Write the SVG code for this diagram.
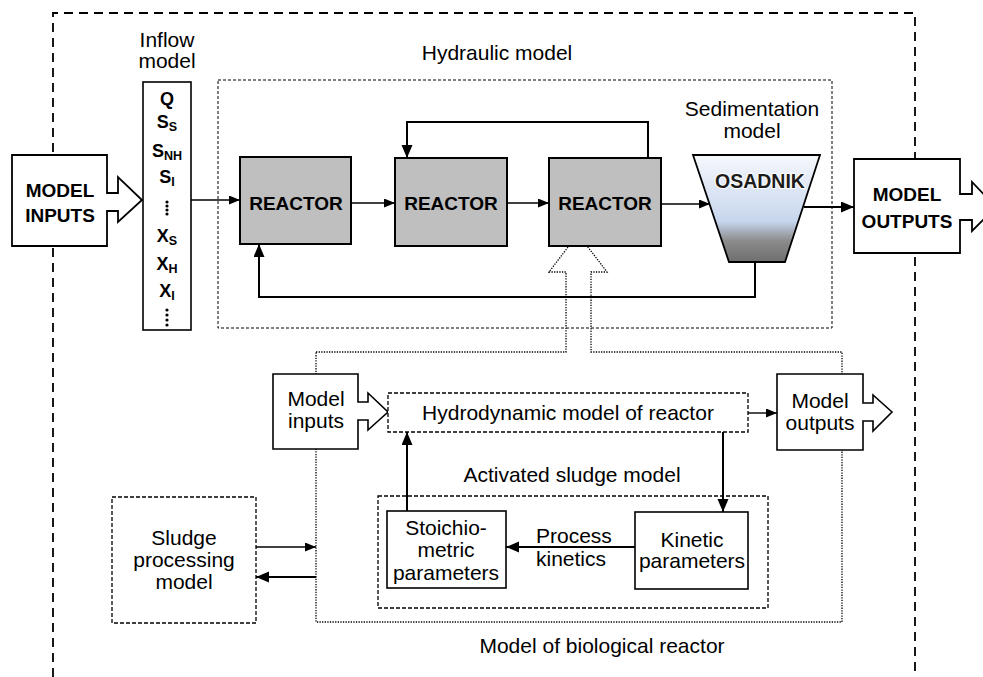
<svg xmlns="http://www.w3.org/2000/svg" width="983" height="677" viewBox="0 0 983 677">
  <style>
    text { font-family: "Liberation Sans", Arial, sans-serif; fill: #000; }
    .lbl { font-size: 21px; text-anchor: middle; }
    .lbl-start { font-size: 21px; }
    .big { font-size: 19px; font-weight: bold; text-anchor: middle; }
    .var { font-size: 18px; font-weight: bold; text-anchor: middle; }
    .sub { font-size: 12.5px; }
    text.settler-name { font-size: 19.5px; font-weight: bold; text-anchor: middle; fill: #1c1c1c; stroke: #fff; stroke-width: 2; stroke-linejoin: round; paint-order: stroke fill; }
    .reactor { fill: #bfbfbf; stroke: #000; stroke-width: 2; }
    .solid { fill: #fff; stroke: #000; stroke-width: 1.6; }
    .block { fill: #fff; stroke: #000; stroke-width: 1.8; }
    .dash-sys { fill: none; stroke: #000; stroke-width: 1.8; stroke-dasharray: 9 6; }
    .dash-fine { fill: none; stroke: #000; stroke-width: 1; stroke-dasharray: 3 2; }
    .dash-mid { fill: #fff; stroke: #000; stroke-width: 1.3; stroke-dasharray: 4 2; }
    .dotted { fill: none; stroke: #000; stroke-width: 1.3; stroke-dasharray: 1.3 1.3; }
    .conn { fill: none; stroke: #000; stroke-width: 1.4; }
    .conn-thick { fill: none; stroke: #000; stroke-width: 2; }
  </style>
  <defs>
    <marker id="arrow" markerUnits="userSpaceOnUse" markerWidth="12" markerHeight="10" refX="11" refY="4.5" orient="auto">
      <path d="M0,0 L11,4.5 L0,9 Z" fill="#000"/>
    </marker>
    <marker id="arrow-lg" markerUnits="userSpaceOnUse" markerWidth="14" markerHeight="12" refX="13" refY="5.5" orient="auto">
      <path d="M0,0 L13,5.5 L0,11 Z" fill="#000"/>
    </marker>
    <linearGradient id="settler" x1="0" y1="0" x2="0" y2="1">
      <stop offset="0" stop-color="#f6f8fc"/>
      <stop offset="0.62" stop-color="#c7d6ee"/>
      <stop offset="0.8" stop-color="#8c8c8c"/>
      <stop offset="1" stop-color="#6e6e6e"/>
    </linearGradient>
  </defs>

  <!-- plant system boundary -->
  <path id="system-boundary" class="dash-sys" d="M53,677 V13 H915 V677"/>

  <!-- hydraulic model frame -->
  <g id="hydraulic-model">
    <rect class="dash-fine" x="218" y="80" width="614" height="248"/>
    <text class="lbl" x="497" y="60">Hydraulic model</text>
  </g>

  <!-- biological reactor model frame with hollow arrow up to the reactor -->
  <g id="bio-reactor-model">
    <path class="dotted" d="M316,352 H566 V272 H549 L578,234 L607,272 H591 V352 H842 V622 H316 Z"/>
    <text class="lbl" x="602" y="653">Model of biological reactor</text>
  </g>

  <!-- connectors -->
  <g id="connectors">
    <path class="conn" d="M191,200 H240" marker-end="url(#arrow)"/>
    <path class="conn" d="M351,203 H395" marker-end="url(#arrow)"/>
    <path class="conn" d="M507,203 H549" marker-end="url(#arrow)"/>
    <path class="conn" d="M661,204 H710" marker-end="url(#arrow)"/>
    <path class="conn-thick" d="M648,158 V122 H407 V158" marker-end="url(#arrow-lg)"/>
    <path class="conn-thick" d="M755,262 V297 H259 V244" marker-end="url(#arrow-lg)"/>
    <path class="conn-thick" d="M804,207 H854" marker-end="url(#arrow-lg)"/>
    <path class="conn" d="M748,413 H777" marker-end="url(#arrow)"/>
    <path class="conn-thick" d="M723,432 V512" marker-end="url(#arrow-lg)"/>
    <path class="conn-thick" d="M407,511 V432" marker-end="url(#arrow-lg)"/>
    <path class="conn-thick" d="M635,547 H506" marker-end="url(#arrow-lg)"/>
    <path class="conn" d="M256,547 H316" marker-end="url(#arrow)"/>
    <path class="conn-thick" d="M316,577 H256" marker-end="url(#arrow-lg)"/>
  </g>

  <!-- plant inputs -->
  <g id="model-inputs">
    <path class="block" d="M12,155 H107 V193 H118 V177 L142,200 L118,222 V211 H107 V246 H12 Z"/>
    <text class="big" x="60" y="197">MODEL</text>
    <text class="big" x="60" y="222">INPUTS</text>
  </g>

  <!-- inflow model column -->
  <g id="inflow-model">
    <text class="lbl" x="167" y="47">Inflow</text>
    <text class="lbl" x="167" y="68">model</text>
    <rect class="solid" x="143" y="82" width="48" height="248"/>
    <text class="var" x="167" y="105">Q</text>
    <text class="var" x="167" y="128">S<tspan class="sub" dy="3">S</tspan></text>
    <text class="var" x="167" y="157">S<tspan class="sub" dy="3">NH</tspan></text>
    <text class="var" x="167" y="183">S<tspan class="sub" dy="3">I</tspan></text>
    <g fill="#000">
      <circle cx="167" cy="202" r="1.6"/><circle cx="167" cy="206" r="1.6"/>
      <circle cx="167" cy="210" r="1.6"/><circle cx="167" cy="214" r="1.6"/>
    </g>
    <text class="var" x="167" y="242">X<tspan class="sub" dy="3">S</tspan></text>
    <text class="var" x="167" y="270">X<tspan class="sub" dy="3">H</tspan></text>
    <text class="var" x="167" y="297">X<tspan class="sub" dy="3">I</tspan></text>
    <g fill="#000">
      <circle cx="167" cy="310" r="1.6"/><circle cx="167" cy="315" r="1.6"/>
      <circle cx="167" cy="320" r="1.6"/><circle cx="167" cy="325" r="1.6"/>
    </g>
  </g>

  <!-- reactors -->
  <g id="reactor-1">
    <rect class="reactor" x="240" y="157" width="111" height="87"/>
    <text class="big" x="296" y="210">REACTOR</text>
  </g>
  <g id="reactor-2">
    <rect class="reactor" x="395" y="158" width="112" height="88"/>
    <text class="big" x="451" y="210">REACTOR</text>
  </g>
  <g id="reactor-3">
    <rect class="reactor" x="549" y="158" width="112" height="88"/>
    <text class="big" x="605" y="210">REACTOR</text>
  </g>

  <!-- settler -->
  <g id="sedimentation-model">
    <text class="lbl" x="752" y="116">Sedimentation</text>
    <text class="lbl" x="752" y="138">model</text>
    <path d="M693,155 H820 L785,262 H729 Z" fill="url(#settler)" stroke="#000" stroke-width="1.8"/>
    <text class="settler-name" x="760" y="188">OSADNIK</text>
  </g>

  <!-- plant outputs -->
  <g id="model-outputs">
    <path class="block" d="M854,159 H960 V194 H972 V182 L996,207 L972,231 V220 H960 V253 H854 Z"/>
    <text class="big" x="907" y="201">MODEL</text>
    <text class="big" x="907" y="228">OUTPUTS</text>
  </g>

  <!-- biological reactor sub-models -->
  <g id="reactor-model-inputs">
    <path class="solid" d="M273,374 H358 V402 H368 V393 L388,412 L368,430 V420 H358 V449 H273 Z"/>
    <text class="lbl" x="316" y="406">Model</text>
    <text class="lbl" x="316" y="428">inputs</text>
  </g>
  <g id="hydrodynamic-model">
    <rect class="dash-mid" x="388" y="393" width="360" height="39"/>
    <text class="lbl" x="568" y="420">Hydrodynamic model of reactor</text>
  </g>
  <g id="reactor-model-outputs">
    <path class="solid" d="M777,374 H863 V403 H873 V395 L892,412 L873,431 V421 H863 V450 H777 Z"/>
    <text class="lbl" x="820" y="408">Model</text>
    <text class="lbl" x="820" y="430">outputs</text>
  </g>
  <g id="activated-sludge-model">
    <text class="lbl" x="572" y="482">Activated sludge model</text>
    <rect class="dash-mid" style="fill:none" x="378" y="496" width="390" height="112"/>
  </g>
  <g id="stoichiometric-parameters">
    <rect class="solid" x="387" y="511" width="119" height="77"/>
    <text class="lbl" x="446" y="535">Stoichio-</text>
    <text class="lbl" x="446" y="557">metric</text>
    <text class="lbl" x="446" y="580">parameters</text>
  </g>
  <g id="process-kinetics">
    <text class="lbl-start" x="536" y="543">Process</text>
    <text class="lbl-start" x="536" y="566">kinetics</text>
  </g>
  <g id="kinetic-parameters">
    <rect class="solid" x="635" y="512" width="113" height="77"/>
    <text class="lbl" x="692" y="547">Kinetic</text>
    <text class="lbl" x="692" y="568">parameters</text>
  </g>
  <g id="sludge-processing-model">
    <rect class="dash-mid" x="112" y="497" width="144" height="126"/>
    <text class="lbl" x="184" y="545">Sludge</text>
    <text class="lbl" x="184" y="567">processing</text>
    <text class="lbl" x="184" y="589">model</text>
  </g>
</svg>
